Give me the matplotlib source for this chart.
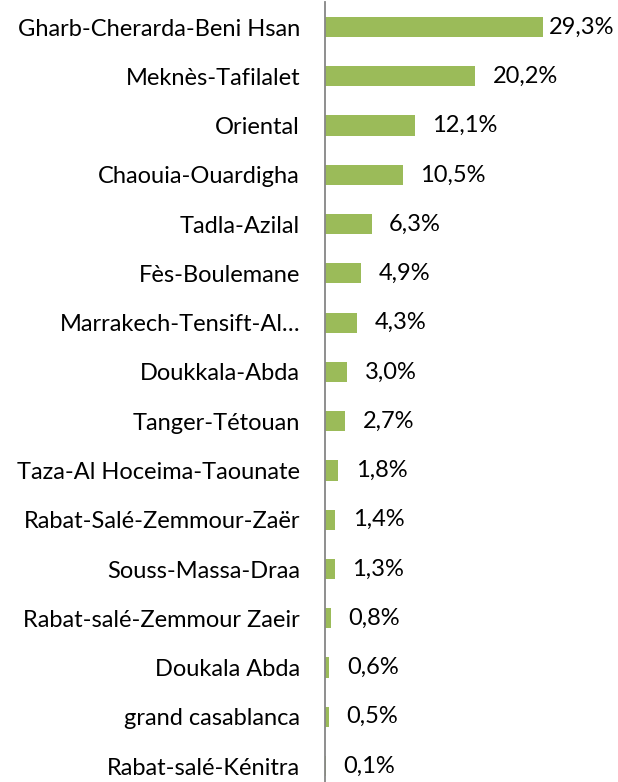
import matplotlib
matplotlib.use("Agg")
import matplotlib.pyplot as plt

regions = [
    "Gharb-Cherarda-Beni Hsan",
    "Meknès-Tafilalet",
    "Oriental",
    "Chaouia-Ouardigha",
    "Tadla-Azilal",
    "Fès-Boulemane",
    "Marrakech-Tensift-Al…",
    "Doukkala-Abda",
    "Tanger-Tétouan",
    "Taza-Al Hoceima-Taounate",
    "Rabat-Salé-Zemmour-Zaër",
    "Souss-Massa-Draa",
    "Rabat-salé-Zemmour Zaeir",
    "Doukala Abda",
    "grand casablanca",
    "Rabat-salé-Kénitra",
]
shares = [29.3, 20.2, 12.1, 10.5, 6.3, 4.9, 4.3, 3.0, 2.7, 1.8, 1.4, 1.3, 0.8, 0.6, 0.5, 0.1]

plt.rcParams["font.family"] = ["Lato", "DejaVu Sans"]

W, H = 618, 782
fig = plt.figure(figsize=(W / 100, H / 100), dpi=100)
# axes box in pixels: left edge at the category axis, 16 rows of ~49.3 px
left, top, row = 325, 2.4, 49.27
width = 40 * 7.44
height = row * len(regions)
ax = fig.add_axes([left / W, 1 - (top + height) / H, width / W, height / H])

ypos = list(range(len(regions)))
ax.barh(ypos, shares, height=0.41, color="#9BBB59")
ax.set_ylim(len(regions) - 0.5, -0.5)
ax.set_xlim(0, 40)

top_share = max(shares)
for y, v in zip(ypos, shares):
    # the longest bar's label gets pulled in so it stays inside the figure
    off = 4 if v == top_share else 12.5
    ax.annotate(f"{v:.1f}%".replace(".", ","), (v, y), xytext=(off, 0),
                textcoords="offset points", va="center", ha="left",
                fontsize=17, color="black")

ax.set_yticks(ypos)
ax.set_yticklabels(regions, fontsize=17)
ax.tick_params(axis="y", length=0, pad=18)
ax.set_xticks([])
for side in ("top", "right", "bottom"):
    ax.spines[side].set_visible(False)
ax.spines["left"].set_color("#868686")
ax.spines["left"].set_linewidth(1.3)

fig.savefig("out.png", dpi=100)
